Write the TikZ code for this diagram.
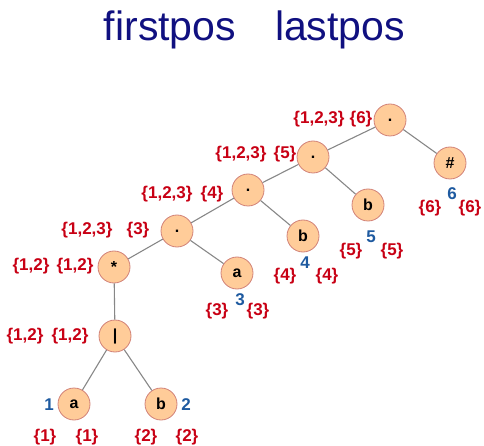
\documentclass[tikz,border=0pt]{standalone}
\usepackage{fontspec}
\setmainfont{Liberation Sans}
\definecolor{navy}{RGB}{16,16,128}
\definecolor{setred}{RGB}{200,0,20}
\definecolor{posblue}{RGB}{30,90,160}
\definecolor{nodefill}{RGB}{255,204,153}
\definecolor{nodeedge}{RGB}{210,130,120}
\definecolor{edgegray}{RGB}{135,135,135}
\begin{document}
\begin{tikzpicture}[x=1pt,y=-1pt,
  tnode/.style={circle,draw=nodeedge,fill=nodefill,line width=0.8pt,minimum size=32pt,inner sep=0pt,font=\fontsize{16}{18}\selectfont\bfseries},
  setlab/.style={text=setred,inner sep=0pt,font=\fontsize{17}{19}\selectfont\bfseries},
  poslab/.style={text=posblue,inner sep=0pt,font=\fontsize{17}{19}\selectfont\bfseries},
  ttl/.style={text=navy,inner sep=0pt,font=\fontsize{41}{44}\selectfont},
  edge/.style={draw=edgegray,line width=1.1pt}]
\useasboundingbox (0,0) rectangle (484,446);
% title
\node[ttl] (t1) at (170,30) {firstpos};
\node[ttl] (t2) at (340,30) {lastpos};
% tree nodes
\node[tnode] (n1) at (390,120) {.};
\node[tnode] (n2) at (313,157) {.};
\node[tnode] (n3) at (248,190) {.};
\node[tnode] (n4) at (177,231) {.};
\node[tnode] (ns) at (114,267) {*};
\node[tnode] (nb) at (115,336) {|};
\node[tnode] (a1) at (74,404) {a};
\node[tnode] (b2) at (161,404) {b};
\node[tnode] (a3) at (237,273) {a};
\node[tnode] (b4) at (303,236) {b};
\node[tnode] (b5) at (368,205) {b};
\node[tnode] (h6) at (450,163) {\#};
% edges
\draw[edge] (n1) -- (n2);
\draw[edge] (n1) -- (h6);
\draw[edge] (n2) -- (n3);
\draw[edge] (n2) -- (b5);
\draw[edge] (n3) -- (n4);
\draw[edge] (n3) -- (b4);
\draw[edge] (n4) -- (ns);
\draw[edge] (n4) -- (a3);
\draw[edge] (ns) -- (nb);
\draw[edge] (nb) -- (a1);
\draw[edge] (nb) -- (b2);
% firstpos / lastpos labels of inner nodes
\node[setlab] (f1) at (319,119) {\{1,2,3\}};
\node[setlab] (l1) at (361,119) {\{6\}};
\node[setlab] (f2) at (241,154) {\{1,2,3\}};
\node[setlab] (l2) at (285,154) {\{5\}};
\node[setlab] (f3) at (167,194) {\{1,2,3\}};
\node[setlab] (l3) at (212,194) {\{4\}};
\node[setlab] (f4) at (87,230) {\{1,2,3\}};
\node[setlab] (l4) at (138,230) {\{3\}};
\node[setlab] (fs) at (31,266) {\{1,2\}};
\node[setlab] (ls) at (75,266) {\{1,2\}};
\node[setlab] (fb) at (25,336) {\{1,2\}};
\node[setlab] (lb) at (70,336) {\{1,2\}};
% leaves
\node[poslab] (p1) at (49,405) {1};
\node[setlab] (fa1) at (45,437) {\{1\}};
\node[setlab] (la1) at (87,437) {\{1\}};
\node[poslab] (p2) at (186,405) {2};
\node[setlab] (fb2) at (146,437) {\{2\}};
\node[setlab] (lb2) at (187,437) {\{2\}};
\node[poslab] (p3) at (240,300) {3};
\node[setlab] (fa3) at (217,311) {\{3\}};
\node[setlab] (la3) at (258,311) {\{3\}};
\node[poslab] (p4) at (305,263) {4};
\node[setlab] (fb4) at (285,276) {\{4\}};
\node[setlab] (lb4) at (327,276) {\{4\}};
\node[poslab] (p5) at (371,237) {5};
\node[setlab] (fb5) at (351,251) {\{5\}};
\node[setlab] (lb5) at (392,251) {\{5\}};
\node[poslab] (p6) at (452,194) {6};
\node[setlab] (fh6) at (430,208) {\{6\}};
\node[setlab] (lh6) at (470,208) {\{6\}};
\end{tikzpicture}
\end{document}
